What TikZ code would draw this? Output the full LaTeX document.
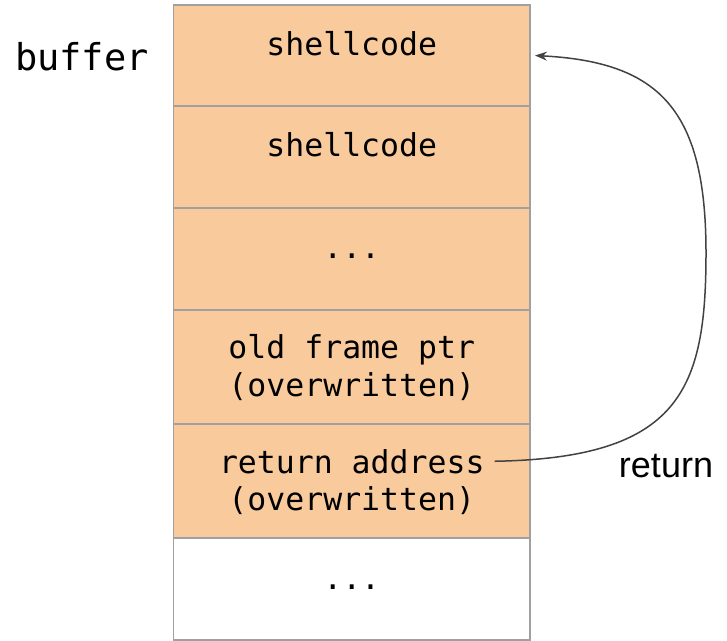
\documentclass[tikz,border=0pt]{standalone}
\usepackage{fontspec}
\setmonofont{DejaVu Sans Mono}
\setsansfont{Liberation Sans}
\usetikzlibrary{arrows.meta}
\definecolor{cellfill}{HTML}{F9CB9C}
\definecolor{cellline}{HTML}{A0A0A0}
\definecolor{arrowline}{HTML}{424242}
\begin{document}
\begin{tikzpicture}[x=1pt,y=-1pt,
  cell/.style={draw=cellline, line width=1.6pt, fill=cellfill,
    minimum width=356.5pt, inner sep=0pt, outer sep=0pt},
  blankcell/.style={cell, fill=white},
  code/.style={font=\fontsize{31.5}{36}\selectfont\ttfamily, inner sep=0pt, anchor=base},
  biglabel/.style={font=\fontsize{37}{40}\selectfont\ttfamily, inner sep=0pt, anchor=base},
  sidelabel/.style={font=\fontsize{36}{40}\selectfont\sffamily, inner sep=0pt, anchor=base},
  jump/.style={draw=arrowline, line width=1.5pt,
    -{Stealth[length=12pt,width=9pt]}}]
\useasboundingbox (0,0) rectangle (727,640);

% stack cells, top to bottom
\node[cell, minimum height=101pt] (c1) at (351.75,55.5) {};
\node[cell, minimum height=102pt] (c2) at (351.75,157) {};
\node[cell, minimum height=102pt] (c3) at (351.75,259) {};
\node[cell, minimum height=114pt] (c4) at (351.75,367) {};
\node[cell, minimum height=114pt] (c5) at (351.75,481) {};
\node[blankcell, minimum height=102pt] (c6) at (351.75,589) {};

% cell contents
\node[code] (t1) at (351.75,55) {shellcode};
\node[code] (t2) at (351.75,156) {shellcode};
\node[code] (t3) at (351.75,258) {...};
\node[code] (t4a) at (351.75,358) {old frame ptr};
\node[code] (t4b) at (351.75,396) {(overwritten)};
\node[code] (t5a) at (351.75,473) {return address};
\node[code] (t5b) at (351.75,510) {(overwritten)};
\node[code] (t6) at (351.75,589) {...};

% side labels
\node[biglabel] (buf) at (82,70) {buffer};
\node[sidelabel] (ret) at (666,477) {return};

% jump from the return address back to the buffer
\coordinate (jstart) at ([xshift=10pt]t5a.east);
\coordinate (jmid) at (706,253);
\coordinate (jend) at ([xshift=5pt]c1.east);
\draw[jump] (jstart) .. controls (680,458) and (706,390) .. (jmid)
  .. controls (706,110) and (660,62) .. (jend);
\end{tikzpicture}
\end{document}
